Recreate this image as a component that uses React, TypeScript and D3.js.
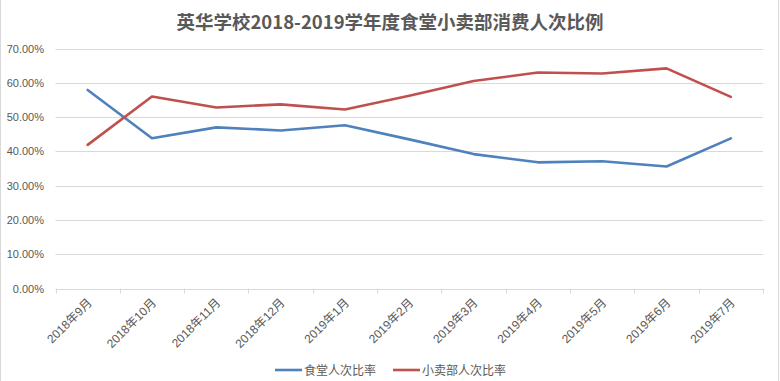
import React from "react";
import * as d3 from "d3";

const categories = ["2018年9月", "2018年10月", "2018年11月", "2018年12月", "2019年1月", "2019年2月", "2019年3月", "2019年4月", "2019年5月", "2019年6月", "2019年7月"];
const canteen = [0.579, 0.438, 0.47, 0.461, 0.476, 0.435, 0.392, 0.368, 0.371, 0.356, 0.438];
const shop = [0.419, 0.56, 0.528, 0.537, 0.522, 0.562, 0.605, 0.63, 0.627, 0.642, 0.559];
const yTicks = [0, 0.1, 0.2, 0.3, 0.4, 0.5, 0.6, 0.7];
const seriesNames = ["食堂人次比率", "小卖部人次比率"];
const colors = ["#4F81BD", "#C0504D"];

const W = 780, H = 381;
const left = 55.5, right = 763, top = 48.5, bottom = 288.5;

export default function App() {
  const x = d3.scaleBand<string>().domain(categories).range([left, right]);
  const y = d3.scaleLinear().domain([0, 0.7]).range([bottom, top]);
  const line = d3.line<number>()
    .x((_, i) => (x(categories[i]) as number) + x.bandwidth() / 2)
    .y((d) => y(d));
  const fmt = d3.format(".2%");
  const font = "'Liberation Sans', 'Noto Sans CJK SC', sans-serif";
  const tickXs = categories.map((c) => x(c) as number).concat([right]);

  return (
    <svg width={W} height={H} style={{ position: "absolute", left: 0, top: 0, background: "#fff" }}>
      <rect x={0} y={0} width={W} height={H} fill="#fff" />
      <line x1={0.5} x2={0.5} y1={0} y2={H} stroke="#D9D9D9" />
      <line x1={778.5} x2={778.5} y1={0} y2={H} stroke="#D9D9D9" />
      <text x={390} y={29} textAnchor="middle" fontFamily="'Noto Sans CJK SC', sans-serif" fontWeight="bold" fontSize={18.5} fill="#595959">
        英华学校2018-2019学年度食堂小卖部消费人次比例
      </text>
      {yTicks.map((t) => (
        <g key={t}>
          <line x1={left} x2={right} y1={Math.round(y(t)) + 0.5} y2={Math.round(y(t)) + 0.5} stroke="#D9D9D9" strokeWidth={1} />
          <text x={44} y={y(t) + 4} textAnchor="end" fontFamily={font} fontSize={11} fill="#595959">
            {fmt(t)}
          </text>
        </g>
      ))}
      {tickXs.map((tx, i) => (
        <line key={i} x1={Math.round(tx) + 0.5} x2={Math.round(tx) + 0.5} y1={bottom} y2={bottom + 5} stroke="#D9D9D9" />
      ))}
      {categories.map((c) => {
        const cx = (x(c) as number) + x.bandwidth() / 2 + 5;
        const cy = bottom + 15;
        return (
          <text key={c} x={cx} y={cy} textAnchor="end" fontFamily={font} fontSize={12} fill="#595959" transform={`rotate(-45 ${cx} ${cy})`}>
            {c}
          </text>
        );
      })}
      {[canteen, shop].map((s, i) => (
        <path key={i} d={line(s) || ""} fill="none" stroke={colors[i]} strokeWidth={2.6} strokeLinejoin="round" strokeLinecap="round" />
      ))}
      {seriesNames.map((n, i) => {
        const lx = i === 0 ? 275 : 393;
        return (
          <g key={n}>
            <line x1={lx} x2={lx + 27} y1={370} y2={370} stroke={colors[i]} strokeWidth={2.6} />
            <text x={lx + 29} y={374.5} fontFamily={font} fontSize={12} fill="#595959">{n}</text>
          </g>
        );
      })}
    </svg>
  );
}
